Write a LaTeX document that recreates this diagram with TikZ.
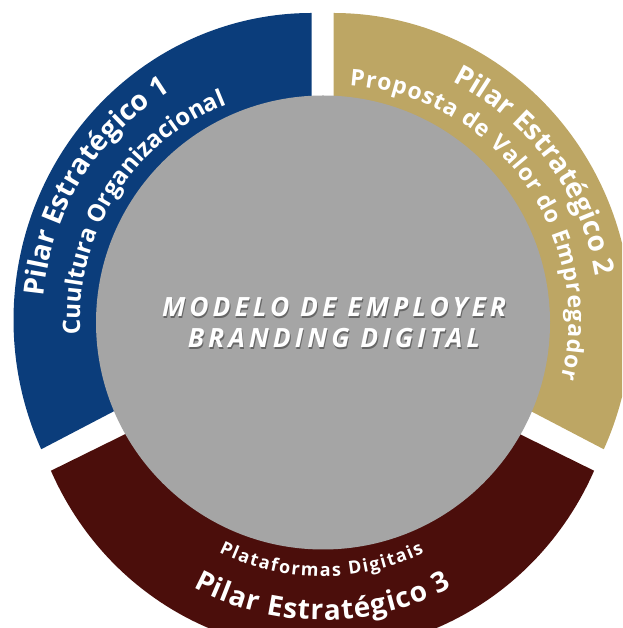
\documentclass[tikz,border=0pt]{standalone}
\usepackage{fontspec}
\usetikzlibrary{decorations.text,calc}
\setmainfont{Open Sans}
\newfontfamily\hubfont{Open Sans}[LetterSpace=15]
\definecolor{pilarblue}{HTML}{0B3D7B}
\definecolor{pilargold}{HTML}{BDA664}
\definecolor{pilarred}{HTML}{4B0E0B}
\definecolor{hubgray}{HTML}{A5A5A5}
% character formats for the curved labels
\newcommand\titlefmt{\color{white}\bfseries\fontsize{28}{30}\selectfont}
\newcommand\subfmtA{\color{white}\bfseries\fontsize{24}{26}\selectfont}
\newcommand\subfmtB{\color{white}\bfseries\fontsize{23}{25}\selectfont}
\newcommand\subfmtC{\color{white}\bfseries\fontsize{18}{20}\selectfont}
% hub caption: a dark drop shadow under the white letters
\newcommand\shadowtext[1]{%
  \rlap{\hspace*{0.9pt}\raisebox{-1.6pt}{\pgfsetfillopacity{0.38}\color{black}#1}}%
  \pgfsetfillopacity{1}#1}
\tikzset{
  ringlabel/.style={decorate,decoration={text along path,text align=fit to path,text={#1}}},
  hubtext/.style={text=white,font=\hubfont\bfseries\itshape\fontsize{26.5}{31}\selectfont,inner sep=0pt,anchor=base},
}
\begin{document}
\begin{tikzpicture}[x=1pt,y=1pt]
\useasboundingbox (0,0) rectangle (622,628);
\clip (0,0) rectangle (622,628);
% centres of the three ring segments (elliptical outer rims)
\coordinate (bc) at (311.5,308);
\coordinate (gc) at (333.5,308);
\coordinate (mc) at (322.5,283.6);
% pillar 1
\fill[pilarblue] (311.5,320) -- ($(bc)+(204.9:298 and 307)$)
  arc[start angle=204.9,end angle=90,x radius=298,y radius=307] -- cycle;
% pillar 2
\fill[pilargold] (333.5,320) -- ($(gc)+(90:298 and 307)$)
  arc[start angle=90,end angle=-24.9,x radius=298,y radius=307] -- cycle;
% pillar 3
\fill[pilarred] (322.5,291) -- ($(mc)+(204.3:298 and 307)$)
  arc[start angle=204.3,end angle=335.7,x radius=298,y radius=307] -- cycle;
% hub
\node[circle,fill=hubgray,minimum size=454,inner sep=0pt] (hub) at (323,305.5) {};
% curved labels
\path[ringlabel={|\titlefmt|Pilar Estratégico 1}] ($(bc)+(175:269)$) arc[start angle=175,end angle=122.5,radius=269];
\path[ringlabel={|\subfmtA|Cuultura Organizacional}] ($(bc)+(183.6:231.5)$) arc[start angle=183.6,end angle=112,radius=231.5];
\path[ringlabel={|\titlefmt|Pilar Estratégico 2}] ($(gc)+(63.5:266)$) arc[start angle=63.5,end angle=11,radius=266];
\path[ringlabel={|\subfmtB|Proposta de Valor do Empregador}] ($(gc)+(86.1:235)$) arc[start angle=86.1,end angle=-14.5,radius=235];
\path[ringlabel={|\titlefmt|Pilar Estratégico 3}] ($(mc)+(242:275.6)$) arc[start angle=242,end angle=298,radius=275.6];
\path[ringlabel={|\subfmtC|Plataformas Digitais}] ($(mc)+(243.5:232)$) arc[start angle=243.5,end angle=296,radius=232];
% hub caption
\node[hubtext] (hubA) at (334,311) {\shadowtext{MODELO DE EMPLOYER}};
\node[hubtext] (hubB) at (334,280) {\shadowtext{BRANDING DIGITAL}};
\end{tikzpicture}
\end{document}
